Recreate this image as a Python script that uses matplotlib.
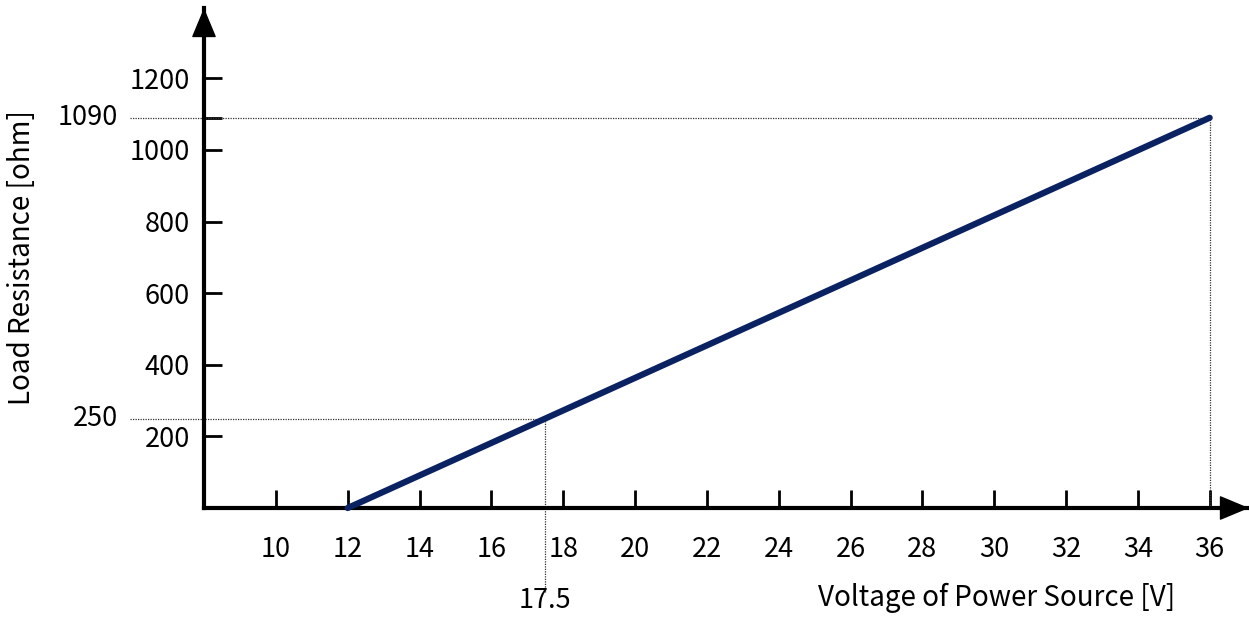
import matplotlib.pyplot as plt
from matplotlib import font_manager

# data
voltage = [12, 36]
resistance = [0, 1090]
x_ticks = [10, 12, 14, 16, 18, 20, 22, 24, 26, 28, 30, 32, 34, 36]
y_ticks = [200, 400, 600, 800, 1000, 1200]
mark_v = 17.5
mark_r = 250
top_r = 1090

names = set(f.name for f in font_manager.fontManager.ttflist)
num_font = 'Noto Sans CJK JP' if 'Noto Sans CJK JP' in names else 'DejaVu Sans'
plt.rcParams['font.family'] = [num_font, 'DejaVu Sans']

W, H = 1249, 621
fig = plt.figure(figsize=(W / 100, H / 100), dpi=100)
x0, y0 = 204, 508
ax = fig.add_axes([x0 / W, (H - y0) / H, (W - x0) / W, (y0 - 8) / H])

ppx = (1209 - 347) / 24.0
ppy = (508 - 150) / 1000.0
ax.set_xlim(8, 8 + (W - x0) / ppx)
ax.set_ylim(0, (y0 - 8) / ppy)

for s in ['top', 'right']:
    ax.spines[s].set_visible(False)
for s in ['left', 'bottom']:
    ax.spines[s].set_linewidth(3)

# arrow heads
astyle = '-|>,head_length=1.2,head_width=0.5'
ax.annotate('', xy=(1.0, 0), xytext=(0.9, 0), xycoords='axes fraction',
            arrowprops=dict(arrowstyle=astyle, lw=1, color='black',
                            mutation_scale=16, shrinkA=0, shrinkB=0))
ax.annotate('', xy=(0, 1.0), xytext=(0, 0.9), xycoords='axes fraction',
            arrowprops=dict(arrowstyle=astyle, lw=1, color='black',
                            mutation_scale=16, shrinkA=0, shrinkB=0))

fs = 19.5
ax.set_xticks(x_ticks)
ax.set_xticklabels([str(v) for v in x_ticks])
ax.set_yticks(y_ticks + [top_r])
ax.set_yticklabels([str(v) for v in y_ticks] + [''])
ax.tick_params(axis='both', direction='in', length=13, width=2, labelsize=fs)
ax.tick_params(axis='x', pad=20)
ax.tick_params(axis='y', pad=10)

# helper dotted lines
xl = 8 + (130 - x0) / ppx
ax.plot([xl, voltage[1]], [top_r, top_r], ls=(0, (1, 1)), lw=0.9, color='#333333', clip_on=False)
ax.plot([voltage[1], voltage[1]], [0, top_r], ls=(0, (1, 1)), lw=0.9, color='#333333', clip_on=False)
ax.plot([xl, mark_v], [mark_r, mark_r], ls=(0, (1, 1)), lw=0.9, color='#333333', clip_on=False)
yb = (y0 - 592) / ppy
ax.plot([mark_v, mark_v], [yb, mark_r], ls=(0, (1, 1)), lw=0.9, color='#333333', clip_on=False)

ax.plot(voltage, resistance, color='#0b2262', lw=4.5, solid_capstyle='round', zorder=5, clip_on=False)

ax.text(8 + (118 - x0) / ppx, top_r, str(top_r), ha='right', va='center', fontsize=fs, clip_on=False)
ax.text(8 + (118 - x0) / ppx, mark_r, str(mark_r), ha='right', va='center', fontsize=fs, clip_on=False)
ax.text(mark_v, (y0 - 600) / ppy, str(mark_v), ha='center', va='center', fontsize=fs, clip_on=False)

fig.text(1175 / W, 1 - 598 / H, 'Voltage of Power Source [V]', ha='right', va='center', fontsize=20)
fig.text(22 / W, 1 - 258 / H, 'Load Resistance [ohm]', ha='center', va='center', rotation=90, fontsize=20)

fig.savefig('out.png', dpi=100)
